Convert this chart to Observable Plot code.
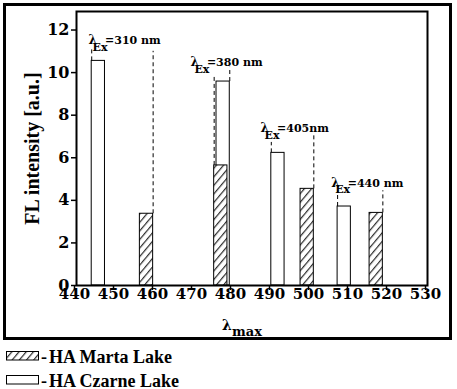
<!DOCTYPE html>
<html><head><meta charset="utf-8">
<script src="https://cdn.jsdelivr.net/npm/d3@7"></script>
<script src="https://cdn.jsdelivr.net/npm/@observablehq/plot@0.6"></script>
<style>
body{margin:0;background:#fff;width:457px;height:389px;overflow:hidden;position:relative;}
#chart{position:absolute;left:0;top:0;}
#box{position:absolute;left:3px;top:3px;width:443px;height:331px;border:3px solid #000;pointer-events:none;}
#legend{position:absolute;left:0;top:345px;}
</style></head><body>
<div id="chart"></div><div id="box"></div><div id="legend"></div>
<script>
// λmax positions (nm) and FL intensities (a.u.)
const lambdaMarta = [457.95, 477.0, 499.15, 516.85];
const flMarta = [3.37, 5.64, 4.54, 3.41];
const lambdaCzarne = [445.6, 477.6, 491.65, 508.65];
const flCzarne = [10.55, 9.58, 6.23, 3.71];
// excitation annotations
const excitation = [310, 380, 405, 440];
const excitationText = ["=310 nm", "=380 nm", "=405nm", "=440 nm"];
const labelLambda = [443.1, 469.2, 487.2, 505.3];
const labelFL = [11.33, 10.31, 7.19, 4.64];
const leftGuideTop = [11.2, 9.8, 6.72, 4.45];
const rightGuideTop = [11.0, 10.25, 7.03, 4.45];
const xTicks = [440, 450, 460, 470, 480, 490, 500, 510, 520, 530];
const yTicks = [0, 2, 4, 6, 8, 10, 12];
const seriesNames = ["HA Marta Lake", "HA Czarne Lake"];

const half = 1.7;
const marta = lambdaMarta.map((x, i) => ({x, y: flMarta[i]}));
const czarne = lambdaCzarne.map((x, i) => ({x, y: flCzarne[i]}));
const groups = excitation.map((ex, i) => {
  const pair = [marta[i], czarne[i]];
  const l = pair[0].x <= pair[1].x ? pair[0] : pair[1];
  const r = pair[0].x <= pair[1].x ? pair[1] : pair[0];
  return {ex, text: excitationText[i], lx: l.x - half, ly: l.y, rx: r.x + half, ry: r.y,
          lt: leftGuideTop[i], rt: rightGuideTop[i], tx: labelLambda[i], ty: labelFL[i]};
});

const dash = {strokeDasharray: "4,3", strokeWidth: 1, stroke: "black"};
const ann = {x: "tx", y: "ty", textAnchor: "start", lineAnchor: "bottom", fill: "black"};

const svg = Plot.plot({
  width: 457, height: 341,
  marginLeft: 76, marginRight: 30, marginTop: 11, marginBottom: 56,
  x: {domain: [440, 530]},
  y: {domain: [0, 12.87]},
  style: {fontFamily: "DejaVu Serif", fontWeight: "bold", background: "transparent", color: "black", overflow: "visible"},
  marks: [
    Plot.ruleX(groups, {x: "lx", y1: "ly", y2: "lt", ...dash}),
    Plot.ruleX(groups, {x: "rx", y1: "ry", y2: "rt", ...dash}),
    Plot.rect(czarne, {x1: d => d.x - half, x2: d => d.x + half, y1: 0, y2: "y", fill: "white", stroke: "black", strokeWidth: 1}),
    Plot.rect(marta, {x1: d => d.x - half, x2: d => d.x + half, y1: 0, y2: "y", fill: "url(#hatch)", stroke: "black", strokeWidth: 1}),
    Plot.text(groups, {...ann, text: () => "λ", fontSize: 12}),
    Plot.text(groups, {...ann, text: () => "Ex", fontSize: 11, dx: 4, dy: 6.5}),
    Plot.text(groups, {...ann, text: "text", fontSize: 11, dx: 16.5}),
    Plot.axisY({ticks: yTicks, tickSize: 5, tickPadding: 2, fontSize: 16, label: null, strokeWidth: 1.5}),
    Plot.axisX({ticks: xTicks, tickSize: 5, tickPadding: -2, fontSize: 15, label: null, dx: -2, strokeWidth: 1.5}),
    Plot.frame({strokeWidth: 2, stroke: "black"}),
    Plot.text(["FL intensity [a.u.]"], {text: d => d, frameAnchor: "left", textAnchor: "middle", rotate: -90, dx: -44, fontSize: 20, fontFamily: "Liberation Serif", fill: "black"}),
    Plot.text(["λ"], {text: d => d, frameAnchor: "bottom", dx: -30, dy: 44, lineAnchor: "bottom", textAnchor: "start", fontSize: 14, fill: "black"}),
    Plot.text(["max"], {text: d => d, frameAnchor: "bottom", dx: -20, dy: 50, lineAnchor: "bottom", textAnchor: "start", fontSize: 13, fill: "black"})
  ]
});
d3.select(svg).append("defs").html(
  '<pattern id="hatch" patternUnits="userSpaceOnUse" width="5.5" height="5.5" patternTransform="rotate(40)">' +
  '<rect width="5.5" height="5.5" fill="white"/><line x1="2.5" y1="0" x2="2.5" y2="5.5" stroke="black" stroke-width="1"/></pattern>');
document.getElementById("chart").appendChild(svg);

// legend
const leg = d3.select("#legend").append("svg").attr("width", 457).attr("height", 44);
const rows = [{y: 6.5, fill: "url(#hatch)"}, {y: 30.5, fill: "white"}];
rows.forEach((r, i) => {
  leg.append("rect").attr("x", 6.5).attr("y", r.y).attr("width", 32).attr("height", 8.5)
    .attr("fill", r.fill).attr("stroke", "black").attr("stroke-width", 1);
  leg.append("text").attr("x", 41).attr("y", r.y + 11).text("-")
    .attr("font-family", "Liberation Serif").attr("font-weight", "bold").attr("font-size", 18);
  leg.append("text").attr("x", 49).attr("y", r.y + 11).text(seriesNames[i])
    .attr("font-family", "Liberation Serif").attr("font-weight", "bold").attr("font-size", 18);
});
</script>
</body></html>
